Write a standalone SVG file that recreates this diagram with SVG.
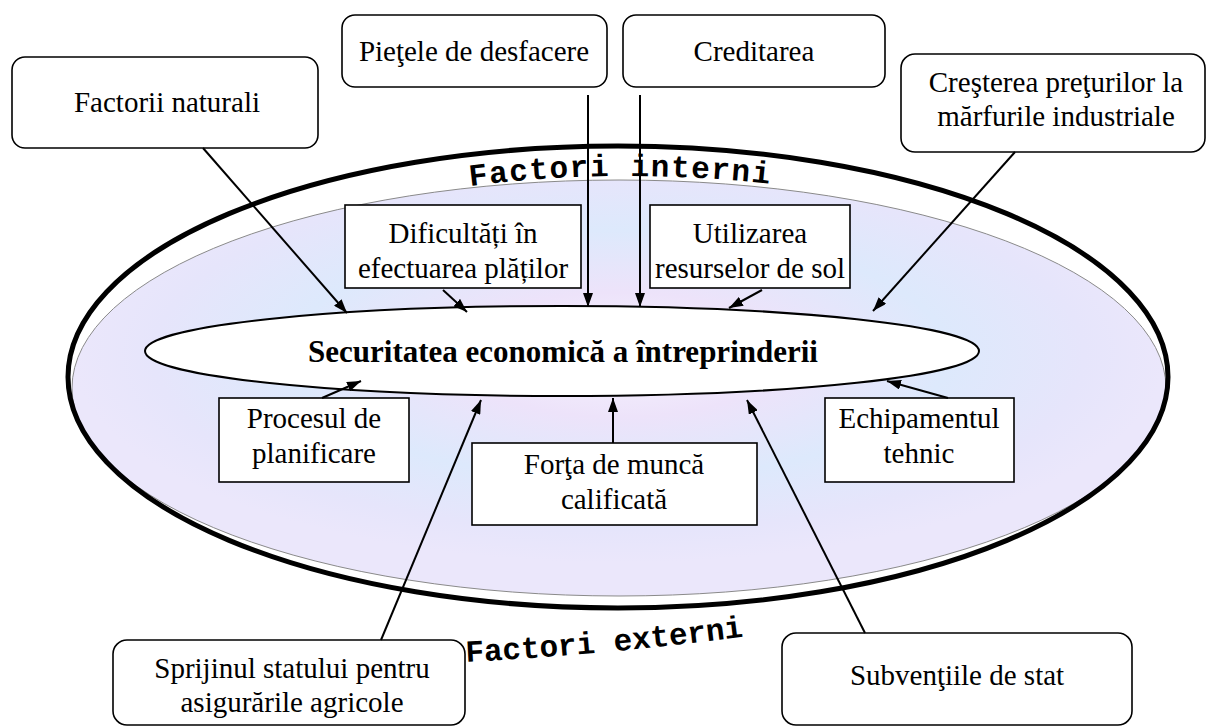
<svg xmlns="http://www.w3.org/2000/svg" width="1208" height="728" viewBox="0 0 1208 728">
<style>
.rb{fill:#fff;stroke:#000;stroke-width:1.6}
.sb{fill:#fff;stroke:#000;stroke-width:1.6}
.t{font-family:"Liberation Serif","Times New Roman",Times,serif;font-size:29px;fill:#000;text-anchor:middle}
.title{font-family:"Liberation Serif","Times New Roman",Times,serif;font-size:31px;font-weight:bold;fill:#000;text-anchor:middle}
.wa{font-family:"Liberation Mono","Courier New",monospace;font-size:31px;font-weight:bold;fill:#000}
.c{stroke:#000;stroke-width:2;fill:none;marker-end:url(#ah)}
</style>
<defs>
<marker id="ah" viewBox="0 0 14 10" refX="14" refY="5" markerWidth="14" markerHeight="10" markerUnits="userSpaceOnUse" orient="auto">
<path d="M0,0 L14,5 L0,10 Z" fill="#000"/>
</marker>
<radialGradient id="fog" cx="0.5" cy="0.42" r="0.5">
<stop offset="0" stop-color="#f6f4fe"/>
<stop offset="0.3" stop-color="#ede3fa"/>
<stop offset="0.6" stop-color="#dde9fc"/>
<stop offset="0.85" stop-color="#e6e5fb"/>
<stop offset="1" stop-color="#ebe7fb"/>
</radialGradient>
<path id="arcIn" d="M470 186 Q627 166 790 186"/>
<path id="arcEx" d="M466 662 Q620 654 778 632"/>
</defs>

<g id="ellipses">
<ellipse cx="619" cy="388" rx="547" ry="208" fill="url(#fog)" stroke="#8a8a8a" stroke-width="1"/>
<ellipse cx="618" cy="377" rx="550" ry="231" fill="none" stroke="#000" stroke-width="5"/>
</g>

<g id="labels-wordart">
<text class="wa" letter-spacing="1.5"><textPath href="#arcIn">Factori interni</textPath></text>
<text class="wa"><textPath href="#arcEx">Factori externi</textPath></text>
</g>

<g id="center">
<ellipse cx="562" cy="351" rx="417" ry="45" fill="#fff" stroke="#000" stroke-width="2"/>
<text class="title" x="563" y="362">Securitatea economică a întreprinderii</text>
</g>

<g id="n-factorii">
<rect class="rb" x="12" y="57" width="306" height="91" rx="13"/>
<text class="t" x="167" y="112">Factorii naturali</text>
</g>
<g id="n-pietele">
<rect class="rb" x="342" y="15" width="265" height="72" rx="13"/>
<text class="t" x="474" y="61">Pieţele de desfacere</text>
</g>
<g id="n-creditarea">
<rect class="rb" x="623" y="15" width="262" height="72" rx="13"/>
<text class="t" x="754" y="61">Creditarea</text>
</g>
<g id="n-cresterea">
<rect class="rb" x="901" y="54" width="304" height="98" rx="14"/>
<text class="t" x="1056" y="92">Creşterea preţurilor la</text>
<text class="t" x="1056" y="126">mărfurile industriale</text>
</g>

<g id="n-dificultati">
<rect class="sb" x="345" y="205" width="236" height="83"/>
<text class="t" x="463" y="243">Dificultăți în</text>
<text class="t" x="463" y="278">efectuarea plăților</text>
</g>
<g id="n-utilizarea">
<rect class="sb" x="650" y="205" width="200" height="83"/>
<text class="t" x="750" y="243">Utilizarea</text>
<text class="t" x="750" y="278">resurselor de sol</text>
</g>
<g id="n-procesul">
<rect class="sb" x="219" y="398" width="190" height="84"/>
<text class="t" x="314" y="428">Procesul de</text>
<text class="t" x="314" y="463">planificare</text>
</g>
<g id="n-forta">
<rect class="sb" x="472" y="443" width="285" height="82"/>
<text class="t" x="614" y="474">Forţa de muncă</text>
<text class="t" x="614" y="509">calificată</text>
</g>
<g id="n-echipamentul">
<rect class="sb" x="825" y="398" width="189" height="84"/>
<text class="t" x="919" y="428">Echipamentul</text>
<text class="t" x="919" y="463">tehnic</text>
</g>

<g id="n-sprijinul">
<rect class="rb" x="113" y="640" width="352" height="85" rx="14"/>
<text class="t" x="292" y="678">Sprijinul statului pentru</text>
<text class="t" x="292" y="712">asigurările agricole</text>
</g>
<g id="n-subventiile">
<rect class="rb" x="782" y="633" width="350" height="92" rx="14"/>
<text class="t" x="957" y="685">Subvenţiile de stat</text>
</g>

<g id="connectors">
<path class="c" d="M203 148 L347 313"/>
<path class="c" d="M588 95 L588 307"/>
<path class="c" d="M640 95 L640 307"/>
<path class="c" d="M1015 152 L873 311"/>
<path class="c" d="M443 290 L467 312"/>
<path class="c" d="M762 290 L729 308"/>
<path class="c" d="M322 398 L361 381"/>
<path class="c" d="M613 443 L613 398"/>
<path class="c" d="M948 398 L887 381"/>
<path class="c" d="M381 640 L481 400"/>
<path class="c" d="M865 633 L747 400"/>
</g>
</svg>
